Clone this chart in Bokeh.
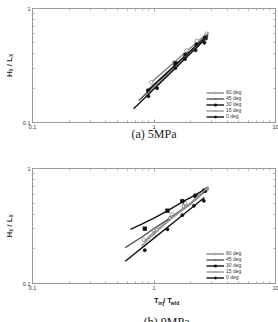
from bokeh.plotting import figure
from bokeh.layouts import column
from bokeh.models import LogAxis, Label, Legend, LegendItem, FixedTicker
from bokeh.embed import file_html
from bokeh.resources import INLINE

series = ["60 deg", "45 deg", "30 deg", "15 deg", "0 deg"]

x_major = [0.1, 1, 10]
x_minor = [0.2, 0.3, 0.4, 0.5, 0.6, 0.7, 0.8, 0.9, 2, 3, 4, 5, 6, 7, 8, 9]
y_major = [0.1, 1]
y_minor = [0.2, 0.3, 0.4, 0.5, 0.6, 0.7, 0.8, 0.9]

# (a) 5 MPa : fitted lines and measured points
a_fit_x = {"60 deg": [0.95, 2.8], "45 deg": [0.75, 2.8], "30 deg": [0.88, 2.75],
           "15 deg": [0.85, 2.7], "0 deg": [0.68, 2.7]}
a_fit_y = {"60 deg": [0.225, 0.62], "45 deg": [0.156, 0.60], "30 deg": [0.19, 0.58],
           "15 deg": [0.172, 0.55], "0 deg": [0.132, 0.55]}
a_pt_x = {"60 deg": [0.95, 1.45, 1.85, 2.25, 2.7],
          "45 deg": [0.9, 1.1, 1.5, 1.9, 2.3, 2.7],
          "30 deg": [0.9, 1.5, 1.82, 2.25, 2.65],
          "15 deg": [0.88, 1.1, 1.5, 1.8, 2.2, 2.6],
          "0 deg": [0.9, 1.06, 1.5, 1.8, 2.2, 2.6]}
a_pt_y = {"60 deg": [0.225, 0.335, 0.43, 0.52, 0.6],
          "45 deg": [0.185, 0.225, 0.315, 0.4, 0.48, 0.57],
          "30 deg": [0.19, 0.33, 0.39, 0.48, 0.55],
          "15 deg": [0.175, 0.22, 0.3, 0.37, 0.45, 0.52],
          "0 deg": [0.17, 0.2, 0.3, 0.36, 0.43, 0.5]}

# (b) 9 MPa
b_fit_x = {"60 deg": [0.82, 1.0, 1.4, 2.0, 2.8],
           "45 deg": [0.58, 0.8, 1.0, 1.4, 2.0, 2.8],
           "30 deg": [0.64, 0.8, 1.0, 1.3, 1.7, 2.2, 2.8],
           "15 deg": [0.8, 1.0, 1.4, 2.0, 2.8],
           "0 deg": [0.58, 1.0, 1.5, 2.0, 2.6]}
b_fit_y = {"60 deg": [0.23, 0.28, 0.37, 0.49, 0.67],
           "45 deg": [0.205, 0.255, 0.3, 0.38, 0.5, 0.68],
           "30 deg": [0.295, 0.33, 0.37, 0.43, 0.51, 0.59, 0.69],
           "15 deg": [0.215, 0.27, 0.37, 0.5, 0.69],
           "0 deg": [0.156, 0.248, 0.35, 0.447, 0.56]}
b_pt_x = {"60 deg": [0.82, 1.05, 1.4, 1.8, 2.3, 2.7],
          "45 deg": [1.0, 1.35, 1.75, 2.25, 2.7],
          "30 deg": [0.84, 1.29, 1.71, 2.2, 2.6],
          "15 deg": [0.8, 1.01, 1.4, 1.8, 2.3, 2.7],
          "0 deg": [0.84, 1.29, 1.71, 2.13, 2.57]}
b_pt_y = {"60 deg": [0.24, 0.29, 0.4, 0.5, 0.58, 0.65],
          "45 deg": [0.29, 0.37, 0.47, 0.57, 0.66],
          "30 deg": [0.30, 0.43, 0.52, 0.58, 0.64],
          "15 deg": [0.215, 0.267, 0.38, 0.48, 0.58, 0.66],
          "0 deg": [0.195, 0.296, 0.393, 0.474, 0.524]}

styles = {
    "60 deg": dict(color="#8a8a8a", marker="circle", fill="white", size=3.5),
    "45 deg": dict(color="#555555", marker="diamond", fill="white", size=4.5),
    "30 deg": dict(color="#111111", marker="square", fill="#111111", size=3.5),
    "15 deg": dict(color="#9a9a9a", marker="x", fill="#9a9a9a", size=3.5),
    "0 deg": dict(color="#111111", marker="circle", fill="#111111", size=3),
}

SANS = "Liberation Sans"
SERIF = "Liberation Serif"


def style_axis(ax):
    ax.major_tick_in = 3
    ax.major_tick_out = 0
    ax.minor_tick_in = 2
    ax.minor_tick_out = 0
    ax.axis_line_color = "#999999"
    ax.major_tick_line_color = "#999999"
    ax.minor_tick_line_color = "#aaaaaa"


def make_panel(fit_x, fit_y, pt_x, pt_y, height, bottom_border):
    p = figure(width=278, height=height, x_axis_type="log", y_axis_type="log",
               x_range=(0.1, 10), y_range=(0.1, 1), output_backend="svg",
               toolbar_location=None, min_border_left=32, min_border_right=3,
               min_border_top=8, min_border_bottom=bottom_border)
    p.grid.visible = False
    p.outline_line_color = "#999999"
    p.background_fill_color = "white"
    p.border_fill_color = "white"
    p.xaxis.ticker = FixedTicker(ticks=x_major, minor_ticks=x_minor)
    p.yaxis.ticker = FixedTicker(ticks=y_major, minor_ticks=y_minor)
    for ax in p.axis:
        style_axis(ax)
        ax.major_label_text_font = SANS
        ax.major_label_text_font_size = "5.5px"
        ax.major_label_text_color = "#333333"
        ax.major_label_standoff = 2
    p.xaxis.major_label_overrides = {0.1: "0.1", 1: "1", 10: "10"}
    p.yaxis.major_label_overrides = {0.1: "0.1", 1: "1"}
    p.yaxis.axis_label = "H\u2093 / L\u2093"
    p.yaxis.axis_label_text_font = SANS
    p.yaxis.axis_label_text_font_style = "bold"
    p.yaxis.axis_label_text_font_size = "8px"
    p.yaxis.axis_label_standoff = 6
    ax_top = LogAxis(ticker=FixedTicker(ticks=x_major, minor_ticks=x_minor))
    ax_right = LogAxis(ticker=FixedTicker(ticks=y_major, minor_ticks=y_minor))
    for ax, loc in ((ax_top, "above"), (ax_right, "right")):
        style_axis(ax)
        ax.major_label_text_color = None
        ax.major_label_text_font_size = "1px"
        ax.major_label_standoff = 0
        p.add_layout(ax, loc)

    items = []
    for s in series:
        st = styles[s]
        r1 = p.line(fit_x[s], fit_y[s], line_color=st["color"], line_width=1.4)
        r2 = p.scatter(pt_x[s], pt_y[s], marker=st["marker"], size=st["size"],
                       line_color=st["color"], fill_color=st["fill"], line_width=0.8)
        items.append(LegendItem(label=s, renderers=[r1, r2]))
    leg = Legend(items=items, location=(174, 3), label_text_font=SANS,
                 label_text_font_size="5px", label_text_color="#333333",
                 glyph_width=18, glyph_height=5, label_height=5, spacing=0,
                 padding=0, margin=0, label_standoff=2,
                 border_line_color=None, background_fill_alpha=0)
    p.add_layout(leg, "center")
    return p


# panel (a): caption as the label of the bottom x-axis
p1 = make_panel(a_fit_x, a_fit_y, a_pt_x, a_pt_y, 160, 38)
bx = p1.below[0]
bx.axis_label = "(a) 5MPa"
bx.axis_label_text_font = SERIF
bx.axis_label_text_font_style = "normal"
bx.axis_label_text_font_size = "12px"
bx.axis_label_text_color = "#222222"
bx.axis_label_standoff = -5

# panel (b)
p2 = make_panel(b_fit_x, b_fit_y, b_pt_x, b_pt_y, 133, 10)

# strip under panel (b) for the axis title (with subscripts) and the caption
pc = figure(width=278, height=29, x_range=(0, 278), y_range=(29, 0),
            output_backend="svg", toolbar_location=None, min_border=0,
            x_axis_location=None, y_axis_location=None)
pc.grid.visible = False
pc.outline_line_color = None
pc.border_fill_color = "white"


def add_text(x, y, txt, font, size, style, align="left"):
    pc.add_layout(Label(x=x, y=y, text=txt, text_font=font, text_font_style=style,
                        text_font_size=size, text_color="#111111",
                        text_baseline="middle", text_align=align))


add_text(139, 6.5, "T", SANS, "7.5px", "bold")
add_text(143.8, 9.5, "inj", SANS, "5px", "bold")
add_text(149.5, 6.5, "/ T", SANS, "7.5px", "bold")
add_text(158.3, 9.5, "wld", SANS, "5px", "bold")
add_text(153.5, 28, "(b) 9MPa", SERIF, "12px", "normal", align="center")

layout = column(p1, p2, pc, spacing=0)
open("out.html", "w").write(file_html(layout, INLINE))
